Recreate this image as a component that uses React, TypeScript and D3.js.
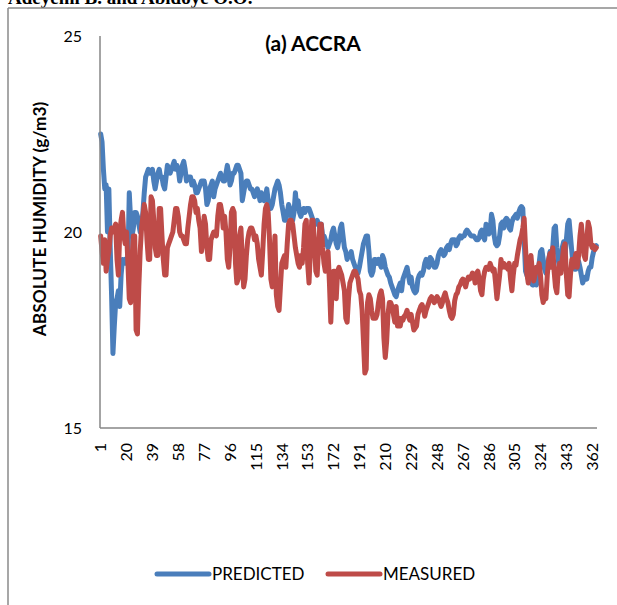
import React from 'react';
import * as d3 from 'd3';

// Daily absolute humidity (g/m3), Accra, day 1..365
const predicted: number[] = [
  22.5, 22.3, 21.6, 21.1, 21.2, 20.0, 21.1, 19.6, 18.4, 16.9,
  17.6, 18.2, 18.3, 18.5, 18.1, 18.9, 19.3, 19.2, 19.3, 19.2,
  19.2, 21.0, 20.3, 19.9, 20.1, 20.5, 20.5, 20.4, 20.2, 20.0,
  20.1, 20.5, 21.0, 21.4, 21.5, 21.6, 21.5, 21.5, 21.6, 21.3,
  21.1, 21.3, 21.5, 21.6, 21.4, 21.4, 21.2, 21.1, 21.4, 21.7,
  21.6, 21.5, 21.6, 21.7, 21.8, 21.6, 21.7, 21.6, 21.3, 21.5,
  21.7, 21.8, 21.6, 21.3, 21.4, 21.4, 21.4, 21.2, 21.3, 21.2,
  21.0, 21.0, 21.1,
  21.2, 21.3, 21.3, 21.3, 21.1, 20.7, 20.8,
  21.1, 21.2, 21.3, 20.9, 21.1, 21.2, 21.3, 21.4, 21.5, 21.4,
  21.3, 21.3, 21.5, 21.7, 21.5, 21.2, 21.3, 21.5, 21.5, 21.6,
  21.7, 21.7, 21.6, 21.5, 20.8, 21.0, 21.2, 21.3, 21.3, 21.2,
  21.1, 21.1, 21.0, 20.9, 21.0, 21.1, 21.0, 20.8, 21.0, 20.9,
  20.8, 20.9, 21.1, 20.8, 20.6, 20.6, 20.7, 20.9, 21.1, 21.2,
  21.3, 21.2, 21.0, 20.7, 20.5, 20.3, 20.3, 20.5, 20.7, 20.6,
  20.4, 20.3, 20.5, 21.0, 20.6, 20.8, 20.5, 20.4, 20.5, 20.6,
  20.5, 20.6, 20.6, 20.6, 20.5, 20.4, 20.3, 20.2, 20.2, 20.3,
  20.2, 20.1, 20.2, 19.9, 19.9, 19.8, 19.7, 19.6, 19.7, 19.8,
  20.0, 20.1, 19.9, 19.7, 19.6, 19.8, 20.1, 20.2, 19.9, 19.6,
  19.5, 19.3, 19.4, 19.4, 19.5, 19.3, 19.2, 19.1, 19.0, 18.95,
  19.1, 19.3, 19.5, 19.7, 19.8, 19.9, 19.9, 19.5, 19.0, 18.9,
  19.0, 19.3, 19.3, 19.2, 19.3, 19.2, 19.1, 19.4, 19.3, 19.1,
  19.0, 18.9, 18.85, 18.7, 18.6, 18.5, 18.4, 18.35, 18.5, 18.6,
  18.7, 18.5, 18.8, 18.9, 19.0, 19.1, 18.9, 18.7, 18.85, 18.6,
  18.5, 18.45, 18.5, 18.8, 18.9, 18.95, 18.9, 19.0, 19.2, 19.3,
  19.2, 19.1, 19.35, 19.3, 19.2, 19.1, 19.1, 19.2, 19.4, 19.5,
  19.55, 19.45, 19.4, 19.45, 19.6, 19.65, 19.55, 19.7, 19.8, 19.8,
  19.8, 19.65, 19.7, 19.85, 19.9, 19.85, 19.9, 19.9, 20.0, 20.05,
  20.0, 19.95, 19.9, 19.9, 19.9, 19.85, 19.8, 19.8, 19.85, 20.0,
  20.05, 19.9, 19.8, 20.2, 20.15, 19.95, 20.0, 20.45, 20.3, 19.9,
  19.7, 19.65, 19.7,
  19.9, 20.2, 20.25, 20.1, 20.3, 20.35, 20.3,
  20.1, 20.05, 20.25, 20.35, 20.4, 20.45, 20.35, 20.5, 20.6, 20.65,
  20.6, 19.8, 19.0, 18.9, 18.8, 18.75, 18.7, 18.65, 18.65, 18.7,
  18.65, 18.85, 19.2, 19.5, 19.55, 19.3, 19.05, 18.95, 19.1, 19.3,
  19.5, 19.45, 19.6, 20.1, 20.15, 19.6, 19.3, 19.05, 19.2, 19.6,
  19.75, 19.4, 19.8, 20.2, 20.3, 19.9, 19.5, 19.15, 19.05, 19.05,
  19.2, 19.25, 19.1, 18.9, 18.7, 18.8, 18.85, 18.8, 19.0, 19.1,
  19.1, 19.35, 19.5, 19.6, 19.65,
];

const measured: number[] = [
  19.9, 19.5, 19.2, 19.8, 19.0, 19.3, 19.5, 19.9, 20.1, 20.0,
  20.1, 20.2, 19.3, 18.9, 20.0, 20.3, 20.5, 19.9, 19.7, 20.0,
  19.2, 18.3, 18.2, 19.3, 19.9, 19.9, 17.5, 17.4, 18.6, 19.5,
  20.1, 20.4, 20.7, 20.5, 19.8, 19.3, 19.3, 20.9, 20.8, 20.3,
  19.6, 19.4, 19.4, 20.6, 20.6, 19.9, 19.3, 18.9, 18.9, 19.6,
  19.7, 19.8, 19.9, 20.0, 20.3, 20.6, 20.6, 20.4, 20.0, 19.9,
  19.9, 19.8, 19.7, 19.7, 20.1, 20.4, 20.7, 20.9, 20.9, 20.8,
  20.5, 20.6, 20.3,
  20.1, 19.5, 19.8, 20.4, 20.2, 19.6, 19.3,
  19.3, 19.8, 19.9, 20.0, 20.0, 19.9, 20.4, 20.7, 20.7, 20.5,
  20.1, 20.4, 20.0, 19.3, 19.1, 19.6, 20.5, 20.6, 20.5, 19.2,
  18.7, 18.8, 19.9, 20.1, 19.3, 18.6, 18.8, 19.4, 19.8, 20.0,
  20.1, 20.1, 20.0, 19.8, 19.9, 19.7, 19.3, 19.1, 18.9, 19.5,
  20.2, 20.6, 20.7, 20.5, 19.8, 18.8, 18.6, 19.1, 19.9, 18.4,
  18.1, 18.0, 18.6, 19.2, 19.3, 19.4, 19.1, 19.7, 20.2, 20.3,
  20.3, 20.2, 19.9, 19.6, 19.4, 19.2, 19.1, 19.4, 19.2, 19.6,
  20.2, 20.3, 19.2, 18.7, 19.5, 20.3, 20.3, 19.7, 19.0, 18.9,
  19.6, 20.2, 20.2, 19.6, 19.2, 19.0, 19.3, 19.5, 18.7, 17.7,
  18.6, 19.0, 19.0, 18.3, 19.0, 19.1, 19.0, 18.9, 18.7, 18.5,
  17.8, 17.7, 18.3, 18.7, 18.8, 18.9, 19.0, 19.0, 18.9, 18.8,
  18.5, 18.4, 18.0, 17.2, 16.4, 16.5, 18.2, 18.4, 18.3, 18.0,
  17.8, 17.8, 17.8, 17.9, 18.2, 18.4, 18.5, 18.3, 17.3, 16.8,
  17.2, 17.9, 18.2, 18.2, 18.1, 17.9, 17.7, 18.1, 17.6, 17.8,
  17.6, 17.8, 17.75, 17.85, 17.9, 18.0, 17.85, 17.75, 17.9, 17.7,
  17.5, 17.55, 17.6, 17.9, 18.0, 18.1, 18.15, 18.05, 17.85, 18.0,
  18.1, 18.2, 18.3, 18.35, 18.3, 18.2, 18.25, 18.35, 18.3, 18.2,
  18.1, 18.2, 18.35, 18.45, 18.3, 18.2, 18.0, 17.85, 17.8, 17.9,
  18.25, 18.4, 18.45, 18.6, 18.65, 18.75, 18.8, 18.75, 18.6, 18.75,
  18.85, 18.8, 18.85, 18.95, 18.9, 18.7, 18.95, 19.0, 18.8, 18.5,
  18.4, 18.8, 19.0, 19.1, 19.1, 19.05, 19.2, 19.1, 19.0, 19.05,
  18.7, 18.3, 18.6,
  18.9, 19.3, 19.1, 19.2, 19.1, 19.15, 19.05,
  19.2, 18.8, 18.5, 18.9, 19.2, 19.15, 19.4, 19.6, 19.8, 19.9,
  20.1, 20.35, 19.6, 18.95, 18.7, 19.1, 19.4, 19.0, 18.75, 18.9,
  19.1, 19.0, 19.2, 18.9, 18.4, 18.2, 18.35, 18.3, 18.9, 19.3,
  19.45, 19.1, 19.6, 19.0, 18.6, 18.45, 19.0, 19.2, 18.95, 19.3,
  19.6, 19.7, 18.9, 18.4, 18.35, 18.9, 19.3, 19.1, 19.3, 19.45,
  19.1, 19.4, 19.9, 20.2, 19.8, 19.4, 19.3, 19.8, 20.25, 20.1,
  19.7, 19.6, 19.65, 19.55, 19.6,
];

const yTicks: number[] = [15, 20, 25];
const seriesNames: string[] = ['PREDICTED', 'MEASURED'];
const seriesColors: string[] = ['#4A7EBB', '#BE4B48'];
const titleText = '(a) ACCRA';
const yAxisTitle = 'ABSOLUTE HUMIDITY (g/m3)';
const headerText = 'Adeyemi B. and Abidoye O.O.';

const days: number[] = d3.range(1, predicted.length + 1);
const labelDays: number[] = days.filter((d) => (d - 1) % 19 === 0);

const FONT = "Lato, 'Open Sans', 'Noto Sans', sans-serif";

export default function App() {
  const W = 617;
  const H = 605;
  const left = 100;
  const right = 597;
  const top = 36;
  const bottom = 428;

  const x = d3.scaleBand<number>().domain(days).range([left, right]).padding(0);
  const y = d3.scaleLinear().domain([15, 25]).range([bottom, top]);
  const cx = (d: number) => (x(d) as number) + x.bandwidth() / 2;

  const line = d3
    .line<number>()
    .x((_, i) => cx(days[i]))
    .y((v) => y(v));

  const series = [predicted, measured];

  const legendItems = [
    { x0: 157, x1: 209, tx: 212 },
    { x0: 328, x1: 380, tx: 383 },
  ];

  return (
    <svg
      width={W}
      height={H}
      style={{ position: 'absolute', left: 0, top: 0, background: '#fff' }}
      fontFamily={FONT}
    >
      <rect x={0} y={0} width={W} height={H} fill="#fff" />
      <text
        x={8}
        y={4}
        fontFamily="'Liberation Serif', 'Times New Roman', serif"
        fontWeight="bold"
        fontSize={19}
        fill="#000"
      >
        {headerText}
      </text>
      {/* frame */}
      <line x1={8} y1={8} x2={W} y2={8} stroke="#8a8a8a" strokeWidth={1.5} />
      <line x1={8} y1={8} x2={8} y2={H} stroke="#8a8a8a" strokeWidth={1.5} />

      {/* title */}
      <text x={313} y={51} textAnchor="middle" fontWeight="bold" fontSize={21} fill="#000">
        {titleText}
      </text>

      {/* y axis title */}
      <text
        transform={`translate(46,219) rotate(-90)`}
        textAnchor="middle"
        fontWeight="bold"
        fontSize={17.3}
        fill="#000"
      >
        {yAxisTitle}
      </text>

      {/* y tick labels */}
      {yTicks.map((t) => (
        <text key={t} x={82} y={y(t)} dy="0.36em" textAnchor="end" fontSize={16} fill="#000">
          {t}
        </text>
      ))}

      {/* x tick labels */}
      {labelDays.map((d) => (
        <text
          key={d}
          transform={`translate(${cx(d)},443) rotate(-90)`}
          textAnchor="end"
          dy="0.36em"
          fontSize={16}
          fill="#000"
        >
          {d}
        </text>
      ))}

      {/* series */}
      {series.map((s, i) => (
        <path
          key={seriesNames[i]}
          d={line(s) as string}
          fill="none"
          stroke={seriesColors[i]}
          strokeWidth={5}
          strokeLinejoin="round"
          strokeLinecap="round"
        />
      ))}

      {/* axes */}
      <line x1={left} y1={top} x2={left} y2={bottom} stroke="#868686" strokeWidth={1.5} />
      <line x1={left} y1={bottom} x2={right} y2={bottom} stroke="#868686" strokeWidth={1.5} />

      {/* legend */}
      {legendItems.map((it, i) => (
        <g key={seriesNames[i]}>
          <line
            x1={it.x0}
            y1={574}
            x2={it.x1}
            y2={574}
            stroke={seriesColors[i]}
            strokeWidth={5}
            strokeLinecap="round"
          />
          <text x={it.tx} y={574} dy="0.36em" fontSize={17} fill="#000">
            {seriesNames[i]}
          </text>
        </g>
      ))}
    </svg>
  );
}
